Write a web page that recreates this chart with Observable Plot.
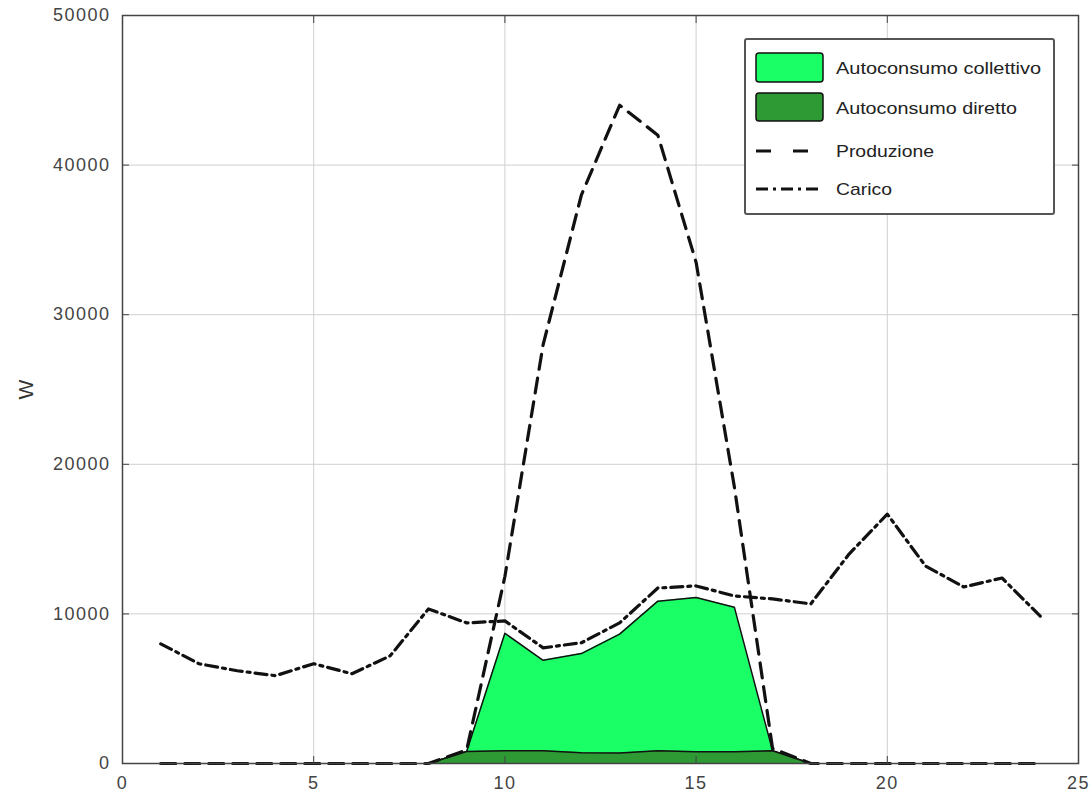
<!DOCTYPE html>
<html>
<head>
<meta charset="utf-8">
<script src="https://cdn.jsdelivr.net/npm/d3@7"></script>
<script src="https://cdn.jsdelivr.net/npm/@observablehq/plot@0.6"></script>
<style>
  html, body { margin: 0; padding: 0; background: #fff; }
  #wrap { position: relative; width: 1091px; height: 800px; }
  #legend { position: absolute; left: 744px; top: 38px; }
  svg text { font-family: "Liberation Sans", Arial, sans-serif; }
  .ticklab text { letter-spacing: 1.5px; }
</style>
</head>
<body>
<div id="wrap"></div>
<script>
// Data (hourly, W)
const hours = [1, 2, 3, 4, 5, 6, 7, 8, 9, 10, 11, 12, 13, 14, 15, 16, 17, 18, 19, 20, 21, 22, 23, 24];
const produzione = [0, 0, 0, 0, 0, 0, 0, 0, 900, 12500, 28000, 38000, 44000, 42000, 33500, 18500, 1000, 0, 0, 0, 0, 0, 0, 0];
const carico = [8000, 6670, 6200, 5870, 6670, 6000, 7200, 10330, 9400, 9530, 7730, 8070, 9400, 11730, 11870, 11200, 11000, 10670, 14000, 16670, 13200, 11800, 12400, 9850];
const diretto = [0, 0, 0, 0, 0, 0, 0, 0, 800, 850, 850, 720, 700, 850, 780, 780, 850, 0, 0, 0, 0, 0, 0, 0];
const collettivo = [0, 0, 0, 0, 0, 0, 0, 0, 0, 7850, 6050, 6630, 7950, 10000, 10320, 9670, 0, 0, 0, 0, 0, 0, 0, 0];
const xTicks = [0, 5, 10, 15, 20, 25];
const yTicks = [0, 10000, 20000, 30000, 40000, 50000];
const xGrid = [5, 10, 15, 20];
const yGrid = [10000, 20000, 30000, 40000];
const seriesNames = ["Autoconsumo collettivo", "Autoconsumo diretto", "Produzione", "Carico"];
const colors = {collettivo: "#1aff66", diretto: "#2d9a34"};

const rows = hours.map((h, i) => ({
  h,
  prod: produzione[i],
  load: carico[i],
  dir: diretto[i],
  tot: diretto[i] + collettivo[i]
}));
const areaRows = rows.filter(d => d.h >= 8 && d.h <= 18);

const fmt = d3.format("d");
const tickFont = {fontSize: 18, fill: "#444", className: "ticklab", tickFormat: fmt};

const chart = Plot.plot({
  width: 1091,
  height: 800,
  marginLeft: 122,
  marginRight: 13,
  marginTop: 15,
  marginBottom: 37,
  style: {fontFamily: "Liberation Sans, Arial, sans-serif", background: "#fff"},
  x: {domain: [0, 25]},
  y: {domain: [0, 50000]},
  marks: [
    Plot.gridX(xGrid, {stroke: "#d0d0d0", strokeOpacity: 1, strokeWidth: 1}),
    Plot.gridY(yGrid, {stroke: "#d0d0d0", strokeOpacity: 1, strokeWidth: 1}),
    Plot.areaY(areaRows, {x: "h", y1: 0, y2: "tot", fill: colors.collettivo}),
    Plot.line(areaRows, {x: "h", y: "tot", stroke: "#111", strokeWidth: 1.5}),
    Plot.areaY(areaRows, {x: "h", y1: 0, y2: "dir", fill: colors.diretto}),
    Plot.line(areaRows, {x: "h", y: "dir", stroke: "#111", strokeWidth: 1.5}),
    Plot.line(rows, {x: "h", y: "prod", stroke: "#111", strokeWidth: 3.2, strokeDasharray: "15,9"}),
    Plot.line(rows, {x: "h", y: "load", stroke: "#111", strokeWidth: 3.2, strokeDasharray: "12,5,3,5"}),
    Plot.frame({stroke: "#444", strokeWidth: 1.5}),
    // inward tick marks on all four sides
    Plot.axisX(xTicks, {anchor: "bottom", tickSize: -7, tickFormat: () => "", stroke: "#444", label: null}),
    Plot.axisX(xTicks, {anchor: "top", tickSize: -7, tickFormat: () => "", stroke: "#444", label: null}),
    Plot.axisY(yTicks, {anchor: "left", tickSize: -7, tickFormat: () => "", stroke: "#444", label: null}),
    Plot.axisY(yTicks, {anchor: "right", tickSize: -7, tickFormat: () => "", stroke: "#444", label: null}),
    // tick labels
    Plot.axisX(xTicks, {anchor: "bottom", tickSize: 0, tickPadding: 13, ...tickFont, label: null}),
    Plot.axisY(yTicks, {anchor: "left", tickSize: 0, tickPadding: 12, ...tickFont,
      label: "W", labelAnchor: "center", labelArrow: "none", labelOffset: 104})
  ]
});
document.getElementById("wrap").appendChild(chart);

// style the y label
chart.querySelectorAll("text").forEach(t => {
  if (t.textContent === "W") { t.setAttribute("font-size", "21"); t.setAttribute("fill", "#333"); t.style.letterSpacing = "0px"; }
});

// Legend
const legend = d3.select("#wrap").append("svg")
  .attr("id", "legend")
  .attr("width", 312).attr("height", 178);
legend.append("rect").attr("x", 1).attr("y", 1).attr("width", 309).attr("height", 175)
  .attr("rx", 2).attr("fill", "#fff").attr("stroke", "#555").attr("stroke-width", 2);
legend.append("rect").attr("x", 12).attr("y", 15).attr("width", 67).attr("height", 29)
  .attr("rx", 3).attr("fill", colors.collettivo).attr("stroke", "#111").attr("stroke-width", 1.5);
legend.append("rect").attr("x", 12).attr("y", 55).attr("width", 67).attr("height", 28)
  .attr("rx", 3).attr("fill", colors.diretto).attr("stroke", "#111").attr("stroke-width", 1.5);
legend.append("line").attr("x1", 12).attr("x2", 79).attr("y1", 113).attr("y2", 113)
  .attr("stroke", "#111").attr("stroke-width", 3).attr("stroke-dasharray", "15,22");
legend.append("line").attr("x1", 12).attr("x2", 79).attr("y1", 151).attr("y2", 151)
  .attr("stroke", "#111").attr("stroke-width", 3).attr("stroke-dasharray", "12,5,3,5");
const lens = [205, 181, 98, 56];
const ys = [36, 76, 119, 157];
seriesNames.forEach((s, i) => {
  legend.append("text").attr("x", 92).attr("y", ys[i])
    .attr("font-size", 17).attr("fill", "#222")
    .attr("textLength", lens[i]).attr("lengthAdjust", "spacingAndGlyphs")
    .text(s);
});
</script>
</body>
</html>
